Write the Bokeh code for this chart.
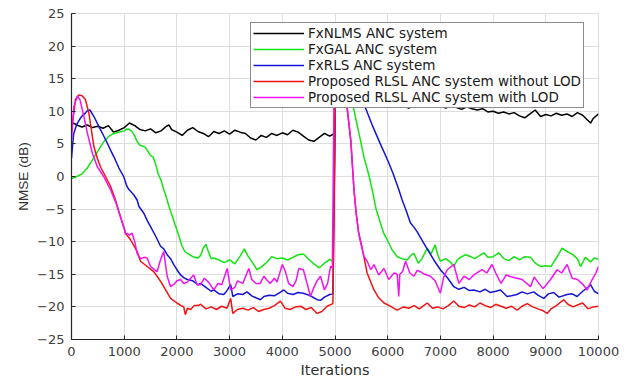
from bokeh.plotting import figure
from bokeh.models import Range1d, FixedTicker, Legend, LegendItem
from bokeh.embed import file_html
from bokeh.resources import INLINE

# ---------------- data ----------------
nlms_x = [0, 40, 100, 200, 300, 400, 500, 600, 700, 800, 900, 1000, 1100, 1200, 1300, 1400, 1500,
          1600, 1700, 1800, 1850, 1900, 2000, 2100, 2200, 2300, 2400, 2500, 2600, 2700, 2800, 2900,
          3000, 3100, 3200, 3300, 3400, 3500, 3600, 3700, 3800, 3900, 4000, 4100, 4200, 4300, 4400,
          4500, 4600, 4700, 4800, 4900, 4990, 5010, 5200, 5400, 5600, 5800, 6000, 6200, 6300, 6400,
          6500, 6600, 6700, 6800, 6900, 7000, 7100, 7200, 7300, 7400, 7500, 7600, 7700, 7800, 7900,
          8000, 8100, 8200, 8300, 8400, 8500, 8600, 8700, 8800, 8900, 9000, 9100, 9200, 9300, 9400,
          9500, 9600, 9700, 9800, 9850, 9900, 10000]
nlms_y = [7.9, 8.2, 7.9, 7.6, 7.9, 7.5, 7.7, 7.4, 7.8, 6.8, 7.1, 7.5, 8.2, 7.8, 7.2, 7.0, 7.3,
          6.7, 7.0, 7.7, 7.9, 7.2, 6.8, 6.3, 7.1, 7.5, 6.9, 6.6, 6.1, 6.9, 6.6, 7.0,
          6.5, 7.1, 6.8, 6.6, 5.9, 5.6, 6.3, 6.0, 6.6, 6.3, 6.7, 6.4, 7.1, 6.8, 6.2,
          5.6, 5.4, 6.0, 6.6, 6.2, 6.6, 12.5, 12.3, 12.0, 12.1, 11.8, 11.7, 11.3, 10.8, 10.5,
          10.9, 10.6, 11.2, 10.7, 10.8, 10.9, 10.5, 10.8, 10.6, 10.3, 10.7, 10.4, 10.2, 10.4, 9.9,
          10.0, 9.7, 9.9, 9.6, 9.8, 9.3, 9.0, 9.6, 10.2, 9.2, 9.5, 9.3, 9.7, 9.4, 9.6,
          9.2, 9.8, 9.4, 8.6, 8.2, 8.9, 9.6]

gal_x = [0, 100, 200, 300, 400, 500, 600, 700, 800, 900, 1000, 1050, 1100, 1150, 1200, 1250, 1300,
         1400, 1500, 1550, 1600, 1650, 1700, 1750, 1800, 1850, 1900, 2000, 2100, 2150, 2200, 2300,
         2400, 2450, 2500, 2550, 2600, 2650, 2700, 2800, 2900, 3000, 3100, 3200, 3280, 3350, 3450,
         3520, 3600, 3700, 3800, 3900, 4000, 4100, 4200, 4300, 4400, 4500, 4600, 4700, 4800, 4900,
         4960, 5020, 5100, 5200, 5330, 5450, 5550, 5650, 5705, 5780, 5860, 5920, 5990, 6080, 6180,
         6270, 6370, 6450, 6500, 6580, 6650, 6750, 6820, 6900, 6950, 7000, 7100, 7200, 7255, 7320,
         7380, 7480, 7580, 7650, 7750, 7825, 7900, 8000, 8110, 8200, 8300, 8400, 8500, 8600, 8710,
         8800, 8900, 9000, 9100, 9200, 9310, 9400, 9500, 9600, 9660, 9750, 9850, 9920, 10000]
gal_y = [-0.3, 0.0, 0.4, 1.3, 2.6, 3.9, 5.2, 6.1, 6.6, 6.8, 7.0, 7.3, 7.2, 6.9, 6.2, 5.3, 4.8,
         4.5, 3.2, 3.0, 1.8, 0.3, -0.6, -2.0, -3.2, -4.6, -5.8, -8.2, -10.7, -11.5, -11.8, -12.3,
         -12.5, -12.1, -11.0, -10.4, -11.6, -12.6, -12.5, -12.8, -13.2, -12.8, -13.4, -12.2, -11.1, -12.2, -13.4,
         -14.3, -13.9, -13.2, -12.3, -12.6, -12.5, -12.8, -12.4, -12.0, -11.9, -12.7, -13.4, -14.0, -13.3, -12.7,
         -13.0, 20.5, 19.8, 16.0, 11.3, 6.8, 3.0, 0.0, -2.0, -5.0, -7.1, -8.6, -9.7, -11.2, -12.3,
         -12.6, -12.8, -12.0, -11.8, -13.3, -12.6, -11.0, -11.9, -10.5, -12.0, -13.0, -12.6, -13.2, -13.8, -12.8,
         -12.4, -12.0, -12.3, -12.6, -12.1, -11.7, -12.4, -12.3, -11.7, -12.6, -12.9, -12.3, -12.8, -12.3, -12.4,
         -13.3, -13.8, -13.7, -13.8, -12.5, -11.0, -11.5, -11.9, -12.6, -13.8, -12.4, -13.1, -12.5, -12.7]

rls_x = [0, 40, 100, 150, 200, 250, 300, 350, 425, 500, 550, 600, 680, 750, 800, 900, 990, 1050,
         1090, 1180, 1245, 1280, 1370, 1440, 1500, 1600, 1690, 1750, 1815, 1880, 1940, 2000, 2070,
         2130, 2195, 2300, 2400, 2450, 2550, 2650, 2700, 2800, 2890, 2950, 3020, 3060, 3150, 3250,
         3330, 3420, 3500, 3585, 3650, 3750, 3850, 3950, 4030, 4100, 4200, 4300, 4400, 4500, 4600,
         4660, 4725, 4800, 4900, 4960, 5020, 5100, 5200, 5300, 5400, 5540, 5700, 5860, 6000, 6100,
         6210, 6275, 6350, 6430, 6500, 6560, 6720, 6875, 7000, 7130, 7255, 7350, 7450, 7550, 7635,
         7750, 7850, 7950, 8050, 8140, 8265, 8350, 8450, 8550, 8650, 8770, 8850, 8960, 9050, 9150,
         9250, 9405, 9500, 9595, 9700, 9800, 9850, 9920, 10000]
rls_y = [2.8, 6.5, 8.0, 8.7, 9.3, 9.6, 10.1, 10.2, 9.2, 8.0, 7.2, 6.4, 5.1, 3.9, 3.1, 1.3, 0.0, -1.5,
         -2.0, -2.8, -3.6, -4.6, -5.6, -6.8, -7.7, -9.2, -10.7, -11.1, -12.0, -12.6, -13.5, -14.3, -15.1,
         -15.5, -15.8, -16.0, -16.6, -16.4, -17.0, -17.6, -17.4, -18.0, -18.1, -17.5, -16.6, -18.4, -18.0, -18.1,
         -17.7, -18.3, -18.6, -18.9, -18.4, -18.2, -18.3, -17.8, -17.4, -17.9, -18.1, -17.8, -17.9, -18.2, -18.6,
         -18.9, -19.0, -18.5, -18.1, -18.0, 20.0, 20.0, 17.5, 15.5, 13.5, 11.3, 8.0, 5.0, 2.5, 0.5,
         -2.0, -3.6, -5.2, -7.1, -7.8, -8.5, -10.7, -12.8, -14.3, -15.5, -16.9, -17.3, -17.0, -17.5, -17.4,
         -17.7, -17.3, -17.8, -17.6, -17.4, -18.4, -18.3, -18.1, -17.7, -18.0, -17.7, -18.2, -18.7, -18.0, -17.8,
         -18.5, -18.1, -18.0, -18.4, -17.6, -17.0, -16.6, -17.6, -18.0]

rlsl_x = [0, 40, 75, 140, 200, 265, 330, 380, 425, 490, 550, 645, 740, 835, 900, 990, 1025, 1120,
          1245, 1310, 1435, 1560, 1625, 1700, 1750, 1880, 2000, 2080, 2130, 2160, 2200, 2260, 2330,
          2400, 2450, 2550, 2650, 2750, 2850, 2950, 3020, 3060, 3150, 3250, 3350, 3450, 3550, 3650,
          3750, 3850, 3965, 4050, 4150, 4250, 4350, 4450, 4550, 4660, 4750, 4850, 4960, 5020, 5100,
          5220, 5300, 5360, 5400, 5450, 5520, 5610, 5740, 5830, 5930, 6030, 6180, 6300, 6400, 6500,
          6600, 6750, 6850, 6950, 7050, 7150, 7255, 7350, 7450, 7550, 7650, 7750, 7850, 7950, 8050,
          8150, 8250, 8350, 8455, 8550, 8650, 8750, 8850, 8950, 9025, 9100, 9200, 9340, 9420, 9520,
          9600, 9700, 9800, 9900, 10000]
rlsl_y = [7.5, 9.5, 11.8, 12.5, 12.4, 11.8, 9.7, 7.0, 4.6, 2.8, 1.5, 0.0, -1.5, -3.6, -5.5, -7.7, -8.7, -9.7,
          -11.5, -13.0, -13.8, -14.6, -15.3, -16.2, -16.9, -18.7, -19.4, -19.8, -20.0, -21.2, -20.2, -20.4, -19.8,
          -19.8, -19.6, -20.3, -20.0, -20.4, -19.9, -20.2, -18.7, -21.0, -20.4, -20.2, -20.5, -20.1, -20.7, -20.4,
          -20.2, -19.8, -19.1, -20.2, -20.4, -20.0, -19.9, -20.4, -20.1, -21.0, -20.7, -19.9, -19.5, 20.0, 17.0,
          11.3, 5.5, -2.0, -5.5, -8.7, -11.2, -14.8, -17.4, -18.6, -19.4, -19.8, -20.5, -20.0, -20.2, -19.8,
          -20.3, -19.4, -20.2, -20.0, -20.3, -19.8, -19.1, -19.9, -20.1, -19.7, -20.0, -19.4, -19.8, -20.1, -19.6,
          -19.9, -20.2, -19.9, -20.5, -19.9, -19.5, -20.0, -20.3, -20.6, -21.0, -20.3, -19.8, -18.9, -19.6, -20.0,
          -19.7, -19.4, -20.3, -20.0, -19.9]

lod_x = [0, 45, 110, 160, 235, 300, 395, 490, 610, 740, 870, 990, 1030, 1060, 1100, 1150, 1200, 1245,
         1310, 1380, 1435, 1500, 1560, 1625, 1680, 1750, 1815, 1880, 1950, 2000, 2070, 2130, 2200,
         2260, 2320, 2380, 2450, 2520, 2600, 2700, 2780, 2850, 2955, 3020, 3100, 3150, 3250, 3365,
         3420, 3500, 3580, 3650, 3700, 3770, 3850, 3900, 4000, 4060, 4120, 4200, 4260, 4315, 4400,
         4470, 4535, 4600, 4660, 4725, 4800, 4860, 4915, 4950, 4990, 5050, 5120, 5220, 5300, 5360,
         5400, 5450, 5500, 5550, 5610, 5680, 5740, 5830, 5930, 6020, 6120, 6180, 6210, 6230, 6280,
         6340, 6420, 6500, 6560, 6620, 6700, 6810, 6900, 7000, 7060, 7130, 7255, 7350, 7450, 7550,
         7650, 7790, 7880, 7980, 8050, 8150, 8250, 8350, 8450, 8550, 8710, 8780, 8850, 8950, 9090,
         9215, 9300, 9405, 9500, 9600, 9700, 9785, 9880, 9950, 10000]
lod_y = [5.6, 10.7, 12.3, 11.8, 9.2, 6.7, 3.6, 1.5, 0.0, -2.0, -4.6, -7.7, -8.9, -8.7, -9.0, -8.7, -10.0, -11.8,
         -12.6, -12.4, -12.5, -13.8, -14.2, -14.6, -13.0, -11.5, -15.3, -16.9, -16.5, -16.0, -15.8, -16.4, -16.2,
         -15.6, -15.1, -16.6, -16.6, -15.6, -16.2, -17.4, -16.4, -16.6, -14.1, -17.4, -17.0, -16.0, -16.4, -14.1,
         -15.8, -16.4, -16.4, -15.3, -15.8, -16.4, -15.6, -16.2, -13.5, -14.6, -16.4, -16.9, -16.0, -14.1, -14.3,
         -16.4, -18.4, -17.0, -16.0, -15.3, -17.4, -16.4, -13.8, -14.0, 20.0, 20.0, 16.5, 11.3, 5.5, -2.0,
         -5.5, -8.7, -10.5, -12.3, -13.0, -14.3, -13.5, -15.1, -14.1, -15.8, -14.8, -15.0, -18.4, -15.0, -14.6,
         -13.0, -14.8, -15.3, -14.4, -14.6, -15.0, -15.3, -16.0, -17.9, -15.5, -14.3, -13.5, -16.4, -15.3, -15.8,
         -15.0, -14.3, -14.8, -13.5, -14.8, -16.4, -15.1, -15.4, -15.6, -15.8, -16.9, -15.4, -16.2, -17.2, -15.8,
         -14.3, -14.8, -13.5, -15.6, -15.8, -16.5, -17.4, -15.8, -14.8, -13.8]

labels = ["FxNLMS ANC system", "FxGAL ANC system", "FxRLS ANC system",
          "Proposed RLSL ANC system without LOD", "Proposed RLSL ANC system with LOD"]
colors = ["#000000", "#12e412", "#1414d8", "#f01414", "#f014f0"]
x_ticks = [0, 1000, 2000, 3000, 4000, 5000, 6000, 7000, 8000, 9000, 10000]
y_ticks = [-25, -20, -15, -10, -5, 0, 5, 10, 15, 20, 25]

# ---------------- figure ----------------
p = figure(width=636, height=381, output_backend="svg", toolbar_location=None,
           x_range=Range1d(0, 10000), y_range=Range1d(-25, 25),
           min_border_left=71, min_border_right=38, min_border_top=13, min_border_bottom=42)
p.background_fill_color = "white"
p.border_fill_color = "white"
p.outline_line_color = "#dedede"

series = [(nlms_x, nlms_y), (gal_x, gal_y), (rls_x, rls_y), (rlsl_x, rlsl_y), (lod_x, lod_y)]
items = []
for (xs, ys), lab, col in zip(series, labels, colors):
    r = p.line(xs, ys, line_color=col, line_width=1.5)
    items.append(LegendItem(label=lab, renderers=[r]))

for ax in (p.xaxis[0], p.yaxis[0]):
    ax.axis_line_color = "#262626"
    ax.axis_line_width = 1.2
    ax.major_tick_line_color = "#262626"
    ax.major_tick_in = 4
    ax.major_tick_out = 0
    ax.minor_tick_line_color = None
    ax.major_label_text_font = "DejaVu Sans"
    ax.major_label_text_font_size = "13px"
    ax.major_label_text_color = "#404040"
    ax.axis_label_text_font_style = "normal"
    ax.axis_label_text_color = "#303030"

p.xaxis[0].ticker = FixedTicker(ticks=x_ticks)
p.yaxis[0].ticker = FixedTicker(ticks=y_ticks)
p.xaxis[0].major_label_standoff = 7
p.yaxis[0].major_label_standoff = 7
p.xaxis.axis_label = "Iterations"
p.xaxis.axis_label_text_font = "DejaVu Sans"
p.xaxis.axis_label_text_font_size = "14.5px"
p.xaxis.axis_label_standoff = 3
p.yaxis.axis_label = "NMSE (dB)"
p.yaxis.axis_label_text_font = "Liberation Sans"
p.yaxis.axis_label_text_font_size = "13.5px"
p.yaxis.axis_label_standoff = 3

p.xgrid.ticker = FixedTicker(ticks=x_ticks)
p.ygrid.ticker = FixedTicker(ticks=y_ticks)
p.grid.grid_line_color = "#dedede"
p.grid.grid_line_width = 1

# frame height = 381 - 13 - 42 = 326; legend top 11 px below frame top
legend = Legend(items=items, location=(179, 231), margin=0, padding=2, spacing=0,
                label_height=16, glyph_height=16, glyph_width=51, label_standoff=4,
                label_text_font="DejaVu Sans", label_text_font_size="13.5px",
                label_text_color="#1a1a1a",
                border_line_color="#1a1a1a", border_line_width=1,
                background_fill_color="white", background_fill_alpha=1.0)
p.add_layout(legend, "center")

open("out.html", "w").write(file_html(p, INLINE))
